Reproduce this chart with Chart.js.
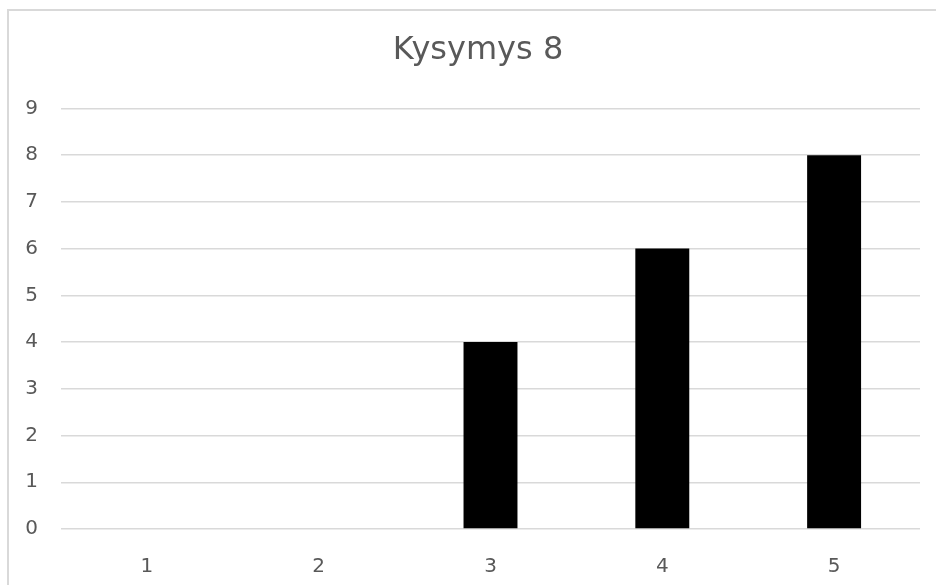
<!DOCTYPE html>
<html>
<head>
<meta charset="utf-8">
<script src="https://cdn.jsdelivr.net/npm/chart.js@4"></script>
<style>
	html, body { margin: 0; padding: 0; background: #fff; overflow: hidden; }
	#frame { position: absolute; left: 7px; top: 9px; width: 1000px; height: 600px; border: 2px solid #d9d9d9; }
	#wrap { position: absolute; left: 0; top: 0; width: 936px; height: 585px; }
</style>
</head>
<body>
<div id="frame"></div>
<div id="wrap"><canvas id="chart"></canvas></div>
<script>
	const categories = ['1', '2', '3', '4', '5'];
	const answers = [0, 0, 4, 6, 8];
	const chartTitle = 'Kysymys 8';

	const labelColor = '#595959';
	const gridColor = '#d9d9d9';

	new Chart(document.getElementById('chart').getContext('2d'), {
		type: 'bar',
		data: {
			labels: categories,
			datasets: [{
				data: answers,
				backgroundColor: '#000000',
				categoryPercentage: 1,
				barPercentage: 0.314
			}]
		},
		options: {
			responsive: true,
			maintainAspectRatio: false,
			animation: false,
			layout: { padding: { left: 20, right: 0, top: 0, bottom: 0 } },
			plugins: {
				legend: { display: false },
				tooltip: { enabled: false },
				title: {
					display: true,
					text: chartTitle,
					color: labelColor,
					font: { family: 'DejaVu Sans', size: 32, weight: 'normal' },
					padding: { top: 31, bottom: 39 }
				}
			},
			scales: {
				x: {
					grid: { display: false },
					border: { display: false },
					ticks: {
						color: labelColor,
						font: { family: 'DejaVu Sans', size: 20 },
						padding: 18
					},
					afterFit: (scale) => { scale.height = 56; }
				},
				y: {
					min: 0,
					max: 9,
					grid: { color: gridColor, lineWidth: 1.5, drawTicks: false },
					border: { display: false },
					ticks: {
						stepSize: 1,
						color: labelColor,
						font: { family: 'DejaVu Sans', size: 20 },
						padding: 23
					},
					afterFit: (scale) => { scale.width = 41; }
				},
				// empty spacer on the right so the title centres on the cropped frame
				spacer: {
					type: 'linear',
					position: 'right',
					grid: { display: false },
					border: { display: false },
					ticks: { display: false },
					afterFit: (scale) => { scale.width = 16; }
				}
			}
		}
	});
</script>
</body>
</html>
